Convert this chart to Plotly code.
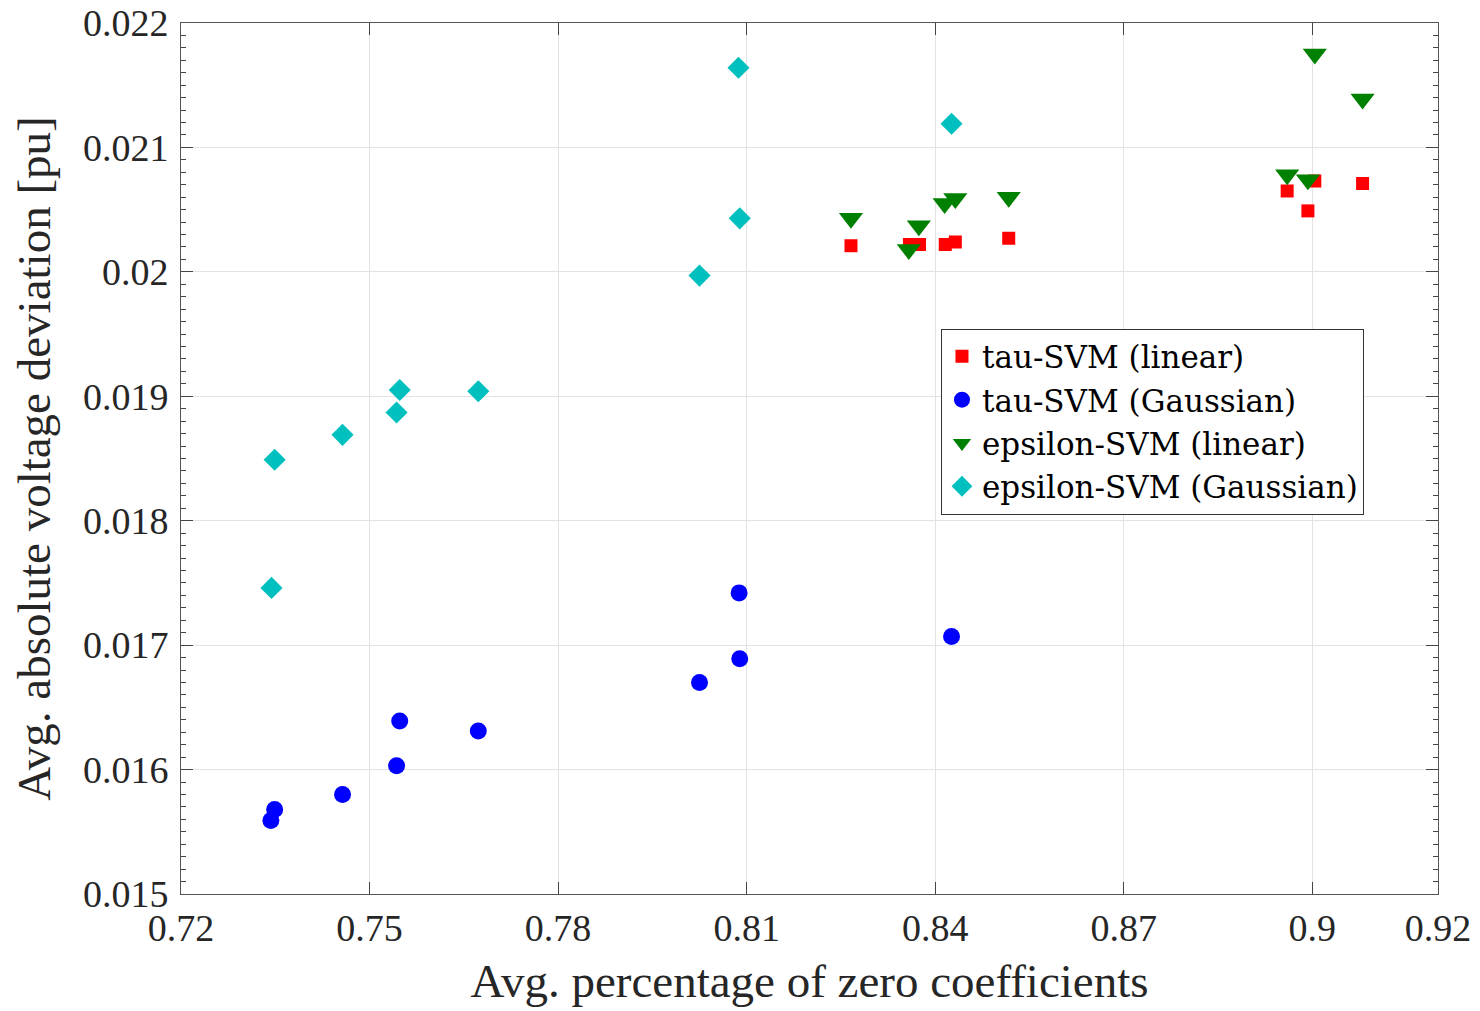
import plotly.graph_objects as go

# tau-SVM (linear)
tau_lin_x = [0.8266, 0.8359, 0.8375, 0.8416, 0.8432, 0.8517, 0.8960, 0.9004, 0.8993, 0.9080]
tau_lin_y = [0.02021, 0.02022, 0.02022, 0.02022, 0.02024, 0.02027, 0.02065, 0.02073, 0.02049, 0.02071]

# tau-SVM (Gaussian)
tau_gau_x = [0.7343, 0.7349, 0.7457, 0.7543, 0.7548, 0.7673, 0.8025, 0.8089, 0.8088, 0.8426]
tau_gau_y = [0.01559, 0.01568, 0.01580, 0.01603, 0.01639, 0.01631, 0.01670, 0.01689, 0.01742, 0.01707]

# epsilon-SVM (linear)
eps_lin_x = [0.8266, 0.8358, 0.8374, 0.8415, 0.8432, 0.8517, 0.8960, 0.8993, 0.9004, 0.9080]
eps_lin_y = [0.02043, 0.02018, 0.02037, 0.02055, 0.02059, 0.02060, 0.02078, 0.02074, 0.02175, 0.02139]

# epsilon-SVM (Gaussian)
eps_gau_x = [0.7344, 0.7349, 0.7457, 0.7543, 0.7548, 0.7673, 0.8025, 0.8089, 0.8087, 0.8426]
eps_gau_y = [0.01746, 0.01849, 0.01869, 0.01887, 0.01905, 0.01904, 0.01997, 0.02043, 0.02164, 0.02119]

x_ticks = [0.72, 0.75, 0.78, 0.81, 0.84, 0.87, 0.9, 0.92]
x_labels = ["0.72", "0.75", "0.78", "0.81", "0.84", "0.87", "0.9", "0.92"]
y_ticks = [0.015, 0.016, 0.017, 0.018, 0.019, 0.02, 0.021, 0.022]
y_labels = ["0.015", "0.016", "0.017", "0.018", "0.019", "0.02", "0.021", "0.022"]

font = "Liberation Serif, Times New Roman, serif"

fig = go.Figure()
fig.add_trace(go.Scatter(x=tau_lin_x, y=tau_lin_y, mode="markers", name="tau-SVM (linear)",
                         marker=dict(symbol="square", size=13, color="#ff0000")))
fig.add_trace(go.Scatter(x=tau_gau_x, y=tau_gau_y, mode="markers", name="tau-SVM (Gaussian)",
                         marker=dict(symbol="circle", size=17, color="#0000ff")))
fig.add_trace(go.Scatter(x=eps_lin_x, y=eps_lin_y, mode="markers", name="epsilon-SVM (linear)",
                         marker=dict(symbol="triangle-down", size=21, color="#008000")))
fig.add_trace(go.Scatter(x=eps_gau_x, y=eps_gau_y, mode="markers", name="epsilon-SVM (Gaussian)",
                         marker=dict(symbol="diamond", size=17, color="#00bfbf")))

# page body adds 8px offset, so the figure is a bit smaller than the window
fig.update_layout(
    width=1472, height=1003,
    margin=dict(l=173, r=42, t=15, b=117, autoexpand=False),
    paper_bgcolor="white", plot_bgcolor="white",
    font=dict(family=font, size=38, color="#262626"),
    legend=dict(x=0.6046, y=0.649, xanchor="left", yanchor="top",
                bgcolor="white", bordercolor="#333333", borderwidth=1,
                font=dict(family="DejaVu Serif, serif", size=31, color="#000000"), itemwidth=30),
)

fig.update_xaxes(
    range=[0.72, 0.92], tickvals=x_ticks, ticktext=x_labels, automargin=False,
    ticklabeloverflow="allow",
    showgrid=True, gridcolor="#e3e3e3", gridwidth=1, zeroline=False,
    showline=True, linecolor="#555555", linewidth=1, mirror="ticks",
    ticks="inside", ticklen=12, tickcolor="#444444",
    title=dict(text="Avg. percentage of zero coefficients", font=dict(size=47), standoff=16),
)
fig.update_yaxes(
    range=[0.015, 0.022], tickvals=y_ticks, ticktext=y_labels, automargin=False,
    ticklabeloverflow="allow",
    showgrid=True, gridcolor="#e3e3e3", gridwidth=1, zeroline=False,
    showline=True, linecolor="#555555", linewidth=1, mirror="ticks",
    ticks="inside", ticklen=12, tickcolor="#444444", ticklabelstandoff=4,
    minor=dict(dtick=0.0001, tick0=0.015, ticks="inside", ticklen=5, tickcolor="#444444", showgrid=False),
    title=dict(text="Avg. absolute voltage deviation [pu]", font=dict(size=47), standoff=20),
)

fig.write_html("out.html")
